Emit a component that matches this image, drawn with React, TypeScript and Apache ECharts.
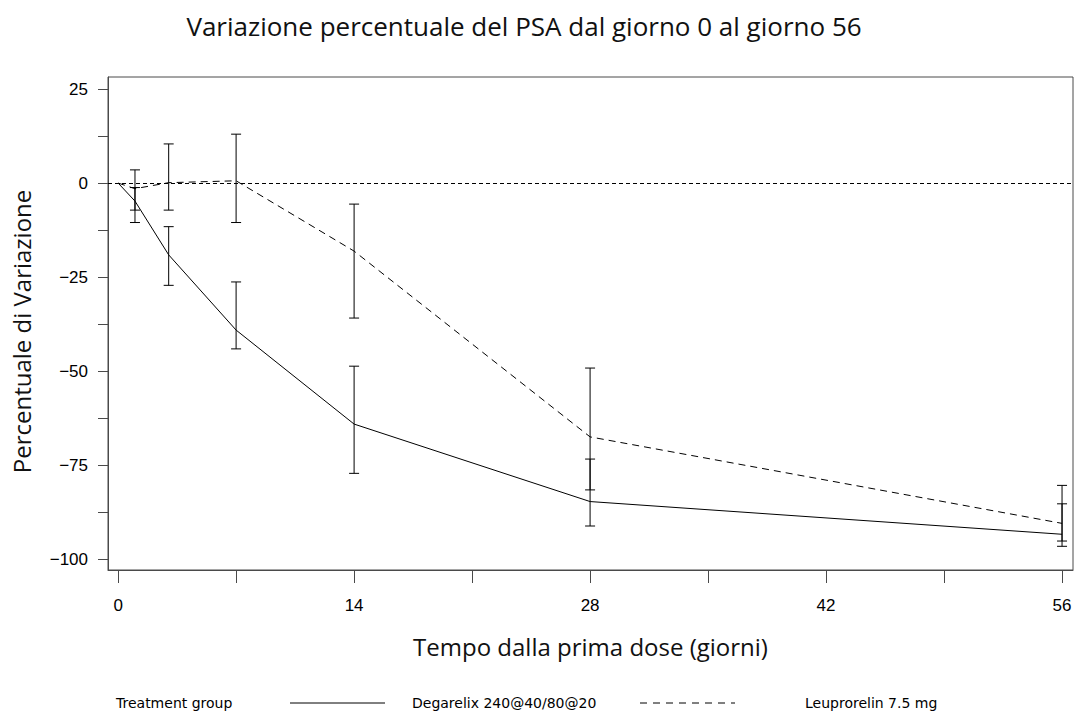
import React, { useEffect, useRef } from "react";
import * as echarts from "echarts";

const days = [0, 1, 3, 7, 14, 28, 56];
const degMean = [0, -4.8, -19.1, -39.1, -64.1, -84.7, -93.4];
const leuMean = [0, -1.5, 0.1, 0.6, -18.1, -67.5, -90.5];
const errDays = [1, 3, 7, 14, 28, 56];
const degLow = [-7.2, -27.2, -44.1, -77.2, -91.2, -95.2];
const degHigh = [-1.2, -11.6, -26.3, -48.7, -73.4, -85.3];
const leuLow = [-10.5, -7.2, -10.5, -35.9, -81.6, -96.6];
const leuHigh = [3.5, 10.4, 13.0, -5.6, -49.2, -80.4];
const xTicks = [0, 7, 14, 21, 28, 35, 42, 49, 56];
const xLabels = [0, 14, 28, 42, 56];
const yTicks = [-100, -87.5, -75, -62.5, -50, -37.5, -25, -12.5, 0, 12.5, 25];
const yLabels = [-100, -75, -50, -25, 0, 25];

const DEG = "Degarelix 240@40/80@20";
const LEU = "Leuprorelin 7.5 mg";

const errRender = (params: any, api: any) => {
  const x = api.value(0);
  const lo = api.coord([x, api.value(1)]);
  const hi = api.coord([x, api.value(2)]);
  const w = 5;
  const style = { stroke: "#000", lineWidth: 1 };
  return {
    type: "group",
    children: [
      { type: "line", shape: { x1: lo[0], y1: lo[1], x2: hi[0], y2: hi[1] }, style },
      { type: "line", shape: { x1: lo[0] - w, y1: lo[1], x2: lo[0] + w, y2: lo[1] }, style },
      { type: "line", shape: { x1: hi[0] - w, y1: hi[1], x2: hi[0] + w, y2: hi[1] }, style },
    ],
  };
};

export default function App() {
  const ref = useRef<HTMLDivElement>(null);
  useEffect(() => {
    document.body.style.margin = "0";
    const chart = echarts.init(ref.current!, null, { renderer: "svg" });
    const axisColor = "#4a4a4a";
    const legendFont = { fontFamily: "DejaVu Sans", fontSize: 14, fill: "#000" };
    const legendY = 703;
    chart.setOption({
      animation: false,
      backgroundColor: "#fff",
      title: {
        text: "Variazione percentuale del PSA dal giorno 0 al giorno 56",
        left: 519,
        textAlign: "center",
        top: 8,
        textStyle: { fontFamily: "Open Sans", fontSize: 26, fontWeight: "normal", color: "#111" },
      },
      grid: {
        left: 108,
        right: 2,
        top: 77,
        bottom: 143,
        show: true,
        borderColor: axisColor,
        borderWidth: 1,
        containLabel: false,
      },
      legend: { show: false },
      graphic: [
        {
          type: "text",
          x: 116,
          y: legendY,
          style: { ...legendFont, text: "Treatment group", verticalAlign: "middle", align: "left" },
        },
        {
          type: "line",
          shape: { x1: 290, y1: legendY, x2: 385, y2: legendY },
          style: { stroke: "#000", lineWidth: 1 },
        },
        {
          type: "text",
          x: 412,
          y: legendY,
          style: { ...legendFont, text: DEG, verticalAlign: "middle", align: "left" },
        },
        {
          type: "line",
          shape: { x1: 640, y1: legendY, x2: 735, y2: legendY },
          style: { stroke: "#000", lineWidth: 1, lineDash: [7, 6] },
        },
        {
          type: "text",
          x: 805,
          y: legendY,
          style: { ...legendFont, text: LEU, verticalAlign: "middle", align: "left" },
        },
      ],
      xAxis: {
        type: "value",
        min: -0.6,
        max: 56.65,
        name: "Tempo dalla prima dose (giorni)",
        nameLocation: "middle",
        nameGap: 64,
        nameTextStyle: { fontFamily: "Open Sans", fontSize: 24, color: "#111" },
        splitLine: { show: false },
        axisLine: { show: true, onZero: false, lineStyle: { color: axisColor } },
        axisTick: { show: true, length: 13, customValues: xTicks, lineStyle: { color: axisColor } },
        axisLabel: {
          customValues: xLabels,
          margin: 27,
          fontFamily: "Liberation Sans",
          fontSize: 17,
          color: "#000",
        },
      },
      yAxis: {
        type: "value",
        min: -102.9,
        max: 28.2,
        name: "Percentuale di Variazione",
        nameLocation: "middle",
        nameGap: 75,
        nameTextStyle: { fontFamily: "Open Sans", fontSize: 24, color: "#111", padding: [0, 16, 0, 0] },
        splitLine: { show: false },
        axisLine: { show: true, onZero: false, lineStyle: { color: axisColor } },
        axisTick: { show: true, length: 10, customValues: yTicks, lineStyle: { color: axisColor } },
        axisLabel: {
          customValues: yLabels,
          margin: 20,
          fontFamily: "Liberation Sans",
          fontSize: 17,
          color: "#000",
          formatter: (v: number) => String(v).replace("-", "\u2212"),
        },
      },
      series: [
        {
          name: DEG,
          type: "line",
          data: days.map((d, i) => [d, degMean[i]]),
          symbol: "none",
          showSymbol: false,
          color: "#000",
          lineStyle: { color: "#000", width: 1, type: "solid" },
          z: 3,
        },
        {
          name: LEU,
          type: "line",
          data: days.map((d, i) => [d, leuMean[i]]),
          symbol: "none",
          showSymbol: false,
          color: "#000",
          lineStyle: { color: "#000", width: 1, type: [7, 5] },
          z: 3,
          markLine: {
            silent: true,
            symbol: "none",
            label: { show: false },
            lineStyle: { color: "#000", width: 1, type: [4, 3] },
            data: [{ yAxis: 0 }],
          },
        },
        {
          name: "err-deg",
          type: "custom",
          renderItem: errRender,
          encode: { x: 0, y: [1, 2] },
          data: errDays.map((d, i) => [d, degLow[i], degHigh[i]]),
          z: 4,
        },
        {
          name: "err-leu",
          type: "custom",
          renderItem: errRender,
          encode: { x: 0, y: [1, 2] },
          data: errDays.map((d, i) => [d, leuLow[i], leuHigh[i]]),
          z: 4,
        },
      ],
    });
    return () => chart.dispose();
  }, []);
  return <div ref={ref} style={{ width: 1075, height: 713 }} />;
}
